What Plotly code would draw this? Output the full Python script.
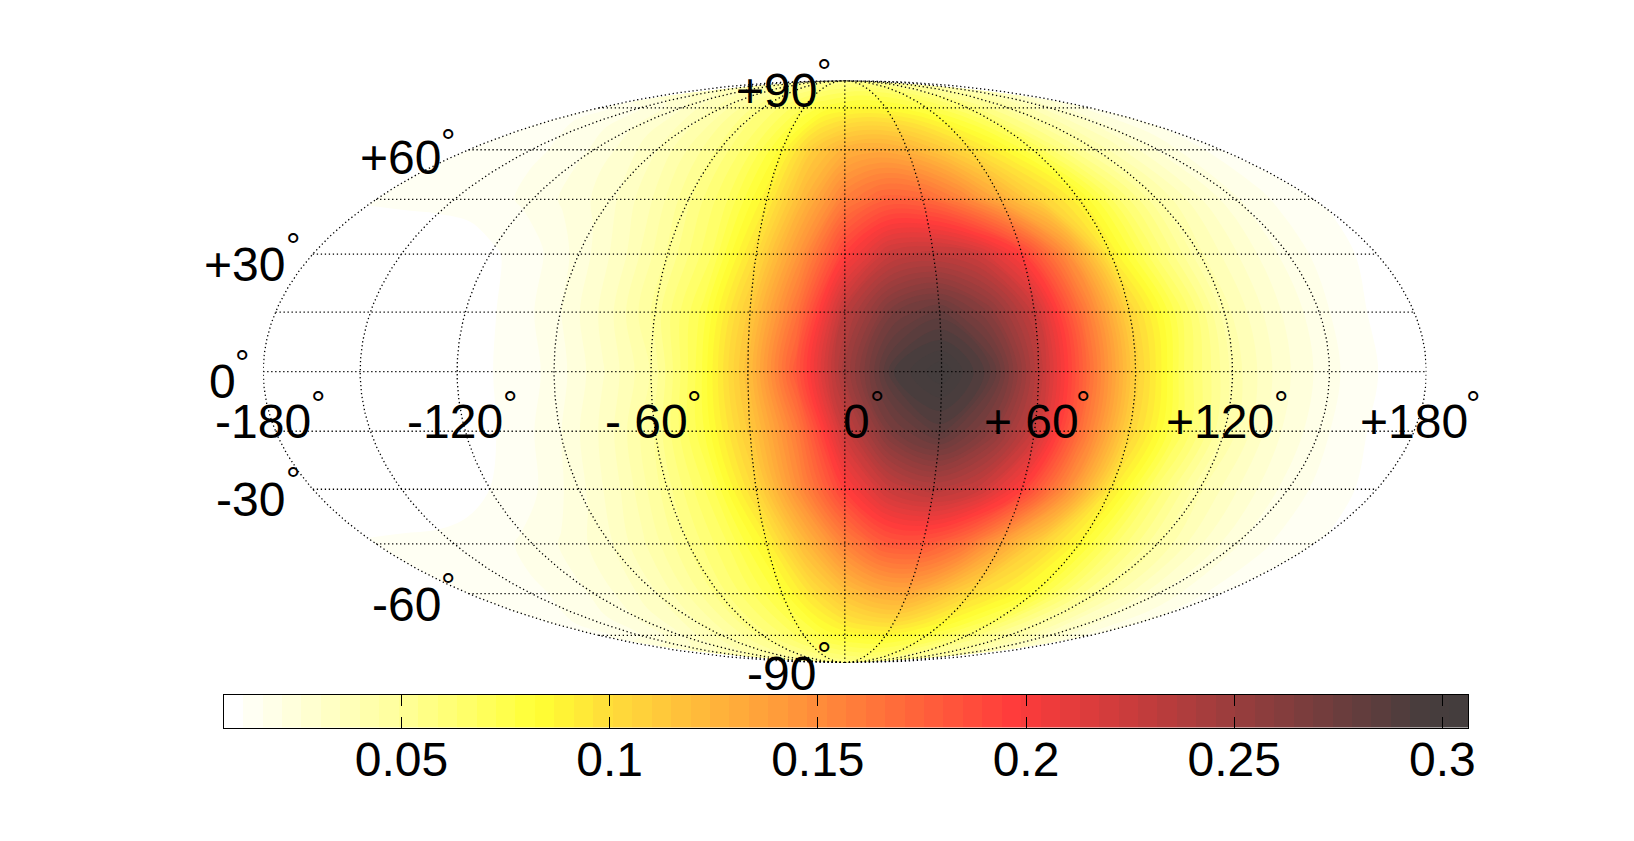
import numpy as np
import plotly.graph_objects as go

# ---------- data ----------
lons = [-180,-165,-150,-135,-120,-105,-90,-75,-60,-45,-30,-15,0,15,30,45,60,75,90,105,120,135,150,165,180]
lats = [-90,-75,-60,-45,-30,-15,0,15,30,45,60,75,90]

z_s90 = [.055]*25
z_s75 = [.015,.018,.021,.025,.030,.036,.042,.049,.056,.063,.071,.078,.083,.085,.085,.082,.077,.070,.062,.054,.047,.040,.032,.025,.019]
z_s60 = [.013,.014,.015,.018,.022,.028,.035,.045,.056,.067,.080,.098,.116,.128,.131,.118,.102,.091,.080,.062,.048,.036,.026,.019,.014]
z_s45 = [.0125,.013,.0135,.015,.018,.023,.030,.041,.054,.068,.088,.122,.155,.178,.180,.165,.135,.106,.084,.062,.045,.032,.022,.016,.0125]
z_s30 = [.008,.008,.008,.009,.012,.016,.024,.036,.052,.071,.103,.150,.195,.225,.235,.225,.195,.148,.093,.063,.041,.029,.019,.014,.010]
z_s15 = [.008,.008,.008,.008,.010,.013,.021,.033,.050,.076,.112,.160,.225,.268,.285,.262,.225,.165,.105,.071,.044,.028,.018,.012,.009]
z_eq  = [.008,.008,.008,.008,.009,.013,.018,.030,.045,.075,.118,.180,.245,.292,.306,.285,.232,.170,.108,.068,.043,.028,.018,.012,.008]
z_n15 = [.008,.008,.008,.008,.010,.013,.021,.033,.051,.074,.112,.165,.232,.268,.280,.260,.225,.165,.105,.071,.042,.028,.018,.012,.009]
z_n30 = [.008,.008,.008,.008,.011,.015,.023,.034,.050,.068,.100,.145,.195,.225,.230,.222,.195,.148,.091,.063,.041,.029,.019,.014,.010]
z_n45 = [.0125,.013,.0135,.015,.018,.023,.029,.039,.053,.068,.090,.125,.158,.174,.172,.155,.130,.106,.088,.064,.045,.032,.022,.016,.0125]
z_n60 = [.013,.014,.015,.018,.022,.028,.035,.045,.055,.067,.084,.110,.126,.131,.126,.114,.100,.087,.073,.057,.044,.034,.025,.019,.014]
z_n75 = [.015,.018,.021,.025,.030,.036,.042,.050,.058,.065,.073,.079,.083,.085,.083,.080,.075,.069,.062,.054,.047,.040,.032,.025,.019]
z_n90 = [.055]*25
z_rows = [z_s90,z_s75,z_s60,z_s45,z_s30,z_s15,z_eq,z_n15,z_n30,z_n45,z_n60,z_n75,z_n90]

cbar_ticks = [0.05,0.1,0.15,0.2,0.25,0.3]
cbar_labels = ["0.05","0.1","0.15","0.2","0.25","0.3"]
grid_lons = [-180,-150,-120,-90,-60,-30,0,30,60,90,120,150,180]
grid_lats = [-75,-60,-45,-30,-15,0,15,30,45,60,75]
axis_labels = ["+90","+60","+30","0","-180","-120","- 60","0","+ 60","+120","+180","-30","-60","-90"]

# ---------- scale and colours ----------
VMIN, VMAX, NLEV = 0.0073, 0.3062, 64
def nv(v): return (v-VMIN)/(VMAX-VMIN)
cmap = [[0,"#ffffff"],[nv(.0097),"#ffffff"],[nv(.05),"#ffff99"],[nv(.083),"#ffff33"],[nv(.1),"#ffdd3a"],
        [nv(.15),"#ff8c3a"],[nv(.197),"#ff3b3b"],[nv(.25),"#993d3d"],[nv(.295),"#483d3d"],[1,"#433d3d"]]

# ---------- Mollweide projection ----------
def moll(lon, lat):
    lon, lat = np.asarray(lon,float), np.asarray(lat,float)
    p = np.radians(lat)
    t = p.copy()
    for _ in range(60):
        d = 2+2*np.cos(2*t)
        d = np.where(np.abs(d)<1e-9,1e-9,d)
        t = t-(2*t+np.sin(2*t)-np.pi*np.sin(p))/d
    t = np.where(np.abs(lat)>=90,np.sign(lat)*np.pi/2,t)
    return lon/180*2*np.cos(t), np.sin(t)

W,H = 1634,841
LON,LAT = np.meshgrid(lons,lats)
X,Y = moll(LON,LAT)

fig = go.Figure()
fig.add_trace(go.Carpet(a=lons,b=lats,x=X.tolist(),y=Y.tolist(),carpet="c",xaxis="x",yaxis="y",
    aaxis=dict(smoothing=1,showgrid=False,showline=False,showticklabels="none",minorgridcount=0,startline=False,endline=False,type="linear"),
    baxis=dict(smoothing=1,showgrid=False,showline=False,showticklabels="none",minorgridcount=0,startline=False,endline=False,type="linear")))
fig.add_trace(go.Contourcarpet(a=lons,b=lats,z=z_rows,carpet="c",xaxis="x",yaxis="y",autocontour=False,
    contours=dict(start=VMIN,end=VMAX,size=(VMAX-VMIN)/NLEV,coloring="fill",showlines=False),
    line=dict(width=0),colorscale=cmap,zmin=VMIN,zmax=VMAX,showscale=False))

# graticule
gx,gy=[],[]
for lo in grid_lons:
    la=np.linspace(-90,90,361); a,b=moll(np.full_like(la,lo),la)
    gx+=a.tolist()+[None]; gy+=b.tolist()+[None]
for la0 in grid_lats:
    lo=np.array([-180.,180.]); a,b=moll(lo,np.full_like(lo,la0))
    gx+=a.tolist()+[None]; gy+=b.tolist()+[None]
fig.add_trace(go.Scatter(x=gx,y=gy,mode="lines",line=dict(color="black",width=1.3,dash="1.3px,2.7px"),hoverinfo="skip",xaxis="x",yaxis="y"))

# colour bar as stepped heatmap
edges=np.linspace(VMIN,VMAX,NLEV+1)
centres=(edges[:-1]+edges[1:])/2
fig.add_trace(go.Heatmap(x=centres.tolist(),y=[0,1],z=[centres.tolist(),centres.tolist()],colorscale=cmap,zmin=VMIN,zmax=VMAX,
    showscale=False,xaxis="x2",yaxis="y2"))

# layout boxes in px
EL,ER,ET,EB = 256.3,1424.5,72.6,654.7
BL,BR,BT,BB = 216.6,1466.5,687,719.5
SC,OX,OY=.957,6.7,8.5
label_pos=[(745,87,791,61),(384,152,430,128),(234,254,281,228),(213,366,232,340),(252,404,305,379),(436,404,489,379),
           (620,404,666,379),(822,404,842,379),(990,404,1040,379),(1172,404,1230,379),(1358,404,1415,379),
           (240,479,281,452),(390,579,430,553),(750,645,791,619)]
FONT="Liberation Sans"
anns=[]
for t,(tx,ty,dx,dy) in zip(axis_labels,label_pos):
    anns.append(dict(text=t,x=(tx-OX)/SC/W,y=1-(ty-OY)/SC/H,xref="paper",yref="paper",xanchor="center",yanchor="middle",showarrow=False,
                     font=dict(family=FONT,size=48,color="black")))
    anns.append(dict(text="°",x=(dx-OX)/SC/W,y=1-(dy+9-OY)/SC/H,xref="paper",yref="paper",xanchor="center",yanchor="middle",showarrow=False,
                     font=dict(family=FONT,size=36,color="black")))

fig.update_layout(width=W,height=H,margin=dict(l=0,r=0,t=0,b=0),paper_bgcolor="white",plot_bgcolor="white",showlegend=False,
    annotations=anns,
    xaxis=dict(domain=[EL/W,ER/W],range=[-2,2],visible=False,fixedrange=True),
    yaxis=dict(domain=[1-EB/H,1-ET/H],range=[-1,1],visible=False,fixedrange=True),
    xaxis2=dict(domain=[BL/W,BR/W],range=[VMIN,VMAX],anchor="y2",tickmode="array",tickvals=cbar_ticks,ticktext=cbar_labels,
                ticks="inside",ticklen=11,tickwidth=1,tickcolor="black",showline=True,linecolor="black",linewidth=1,mirror="ticks",
                showgrid=False,zeroline=False,tickfont=dict(family=FONT,size=48,color="black"),ticklabelstandoff=-10,fixedrange=True),
    yaxis2=dict(domain=[1-BB/H,1-BT/H],range=[0,1],anchor="x2",showticklabels=False,ticks="",showline=True,linecolor="black",linewidth=1,
                mirror=True,showgrid=False,zeroline=False,fixedrange=True))
fig.write_html("out.html")
